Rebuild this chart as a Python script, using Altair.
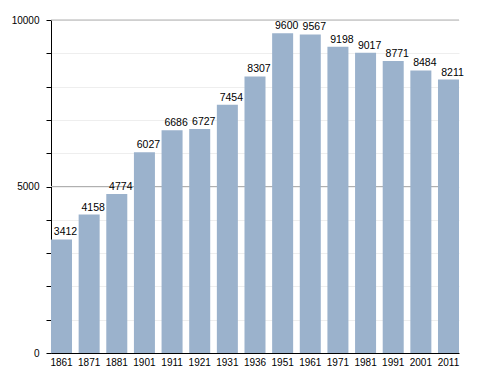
import altair as alt
import pandas as pd

years = ["1861", "1871", "1881", "1901", "1911", "1921", "1931", "1936",
         "1951", "1961", "1971", "1981", "1991", "2001", "2011"]
population = [3412, 4158, 4774, 6027, 6686, 6727, 7454, 8307,
              9600, 9567, 9198, 9017, 8771, 8484, 8211]
y_ticks = [0, 1000, 2000, 3000, 4000, 5000, 6000, 7000, 8000, 9000, 10000]
major_lines = [5000, 10000]

df = pd.DataFrame({"year": years, "pop": population})
major_df = pd.DataFrame({"pop": major_lines})

FONT = "Liberation Sans"

x_enc = alt.X("year:N", sort=years, title=None,
              scale=alt.Scale(paddingInner=0.24, paddingOuter=0.0),
              axis=alt.Axis(labelAngle=0, ticks=False, domainColor="#000000",
                            labelColor="#000000", labelFont=FONT, labelFontSize=10,
                            labelPadding=4, grid=False, labelOverlap=False))
y_enc = alt.Y("pop:Q", title=None,
              scale=alt.Scale(domain=[0, 10000], nice=False),
              axis=alt.Axis(values=y_ticks,
                            labelExpr="datum.value % 5000 == 0 ? datum.label : ''",
                            labelOverlap=False,
                            domainColor="#000000", tickColor="#000000", tickSize=5,
                            labelColor="#000000", labelFont=FONT, labelFontSize=10,
                            labelPadding=7, gridColor="#eeeeee", gridWidth=1))

major = alt.Chart(major_df).mark_rule(color="#b0b0b0", strokeWidth=1).encode(y=y_enc)

bars = alt.Chart(df).mark_bar(color="#9bb2cc").encode(x=x_enc, y=y_enc)

labels = alt.Chart(df).mark_text(baseline="alphabetic", dy=-4, dx=4, font=FONT,
                                 fontSize=10.5, color="#000000").encode(
    x=x_enc, y=y_enc, text="pop:Q")

chart = alt.layer(major, bars, labels).properties(
    width=408, height=333,
    padding={"left": 3, "top": 7, "right": 5, "bottom": 5},
).configure_view(stroke=None).configure_axisY(format="d")

chart.save("out.html", embed_options={"renderer": "svg", "actions": False})
